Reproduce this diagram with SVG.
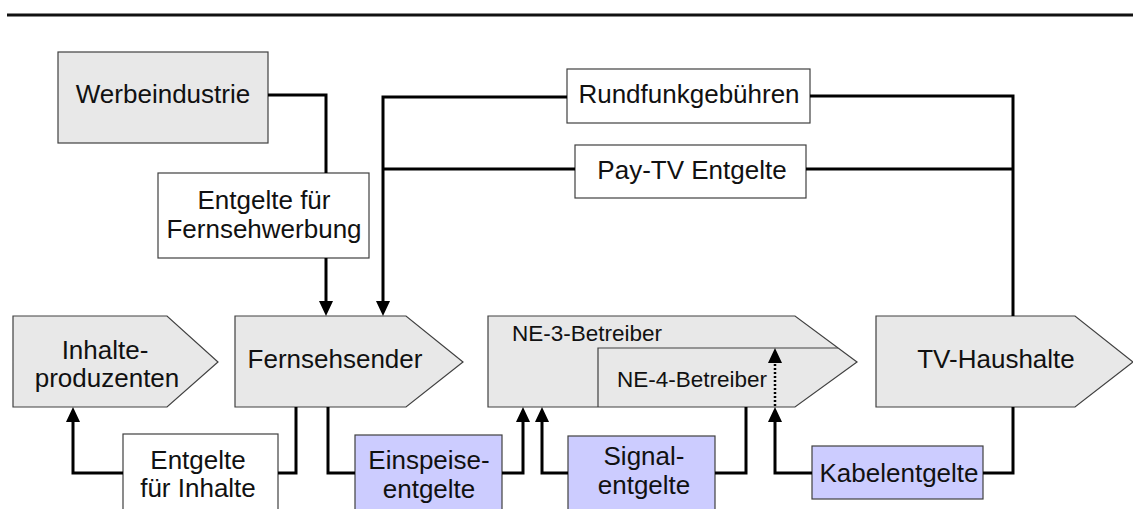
<svg xmlns="http://www.w3.org/2000/svg" width="1133" height="509" viewBox="0 0 1133 509">
<style>
.g{fill:#e8e8e8;stroke:#404040;stroke-width:1.2}
.w{fill:#ffffff;stroke:#404040;stroke-width:1.2}
.b{fill:#ccccff;stroke:#404040;stroke-width:1.2}
.t{font-family:"Liberation Sans",Arial,sans-serif;font-size:26px;fill:#111;text-anchor:middle}
.s{font-family:"Liberation Sans",Arial,sans-serif;font-size:22.5px;fill:#111}
.c{fill:none;stroke:#000;stroke-width:3}
.a{marker-end:url(#ah)}
.d{fill:none;stroke:#000;stroke-width:2.5;stroke-dasharray:2 2}
</style>
<defs>
<marker id="ah" viewBox="0 0 15 14" refX="7" refY="7" markerWidth="15" markerHeight="14" markerUnits="userSpaceOnUse" orient="auto">
<path d="M0,0 L15,7 L0,14 z" fill="#000"/>
</marker>
</defs>
<line x1="7" y1="15" x2="1133" y2="15" stroke="#111" stroke-width="3"/>
<g id="werbeindustrie">
<rect class="g" x="58" y="52" width="210" height="91"/>
<text class="t" x="163" y="103">Werbeindustrie</text>
</g>
<g id="entgelte-fernsehwerbung">
<rect class="w" x="158" y="173" width="211" height="85"/>
<text class="t" x="264" y="209">Entgelte für</text>
<text class="t" x="264" y="238">Fernsehwerbung</text>
</g>
<g id="rundfunkgebuehren">
<rect class="w" x="567" y="69" width="243" height="54"/>
<text class="t" x="689" y="103">Rundfunkgebühren</text>
</g>
<g id="paytv-entgelte">
<rect class="w" x="575" y="145" width="231" height="53"/>
<text class="t" x="692" y="179">Pay-TV Entgelte</text>
</g>
<g id="inhalteproduzenten">
<polygon class="g" points="13,316 167,316 218,362 167,407 13,407"/>
<text class="t" x="105" y="359">Inhalte-</text>
<text class="t" x="107" y="387">produzenten</text>
</g>
<g id="fernsehsender">
<polygon class="g" points="235,316 406,316 463,362 406,407 235,407"/>
<text class="t" x="335" y="368">Fernsehsender</text>
</g>
<g id="ne3-betreiber">
<polygon class="g" points="488,316 795,316 857,362 795,407 488,407"/>
<text class="s" x="512" y="341">NE-3-Betreiber</text>
</g>
<g id="ne4-betreiber">
<polyline fill="none" stroke="#404040" stroke-width="1.2" points="598,407 598,348 838,348"/>
<text class="s" x="617" y="387">NE-4-Betreiber</text>
</g>
<g id="tv-haushalte">
<polygon class="g" points="876,316 1075,316 1133,362 1075,407 876,407"/>
<text class="t" x="996" y="368">TV-Haushalte</text>
</g>
<g id="entgelte-inhalte">
<rect class="w" x="123" y="434" width="155" height="85"/>
<text class="t" x="198" y="469">Entgelte</text>
<text class="t" x="198" y="497">für Inhalte</text>
</g>
<g id="einspeiseentgelte">
<rect class="b" x="355" y="435" width="147" height="85"/>
<text class="t" x="429" y="469">Einspeise-</text>
<text class="t" x="429" y="498">entgelte</text>
</g>
<g id="signalentgelte">
<rect class="b" x="568" y="436" width="147" height="84"/>
<text class="t" x="644" y="465">Signal-</text>
<text class="t" x="644" y="494">entgelte</text>
</g>
<g id="kabelentgelte">
<rect class="b" x="812" y="446" width="171" height="53"/>
<text class="t" x="899" y="482">Kabelentgelte</text>
</g>
<g id="connectors">
<path class="c" d="M268,95 H326 V173"/>
<path class="c a" d="M326,258 V308"/>
<path class="c a" d="M567,97 H383 V308"/>
<path class="c" d="M575,169 H383"/>
<path class="c" d="M1013,316 V96 H810"/>
<path class="c" d="M1013,169 H806"/>
<path class="c" d="M296,407 V473 H278"/>
<path class="c a" d="M123,473 H73 V415"/>
<path class="c" d="M328,407 V473 H355"/>
<path class="c a" d="M502,473 H523 V415"/>
<path class="c" d="M746,407 V473 H715"/>
<path class="c a" d="M568,473 H542 V415"/>
<path class="c" d="M1013,407 V473 H983"/>
<path class="c a" d="M812,473 H775 V415"/>
<path class="d a" d="M775,406 V356"/>
</g>
</svg>
